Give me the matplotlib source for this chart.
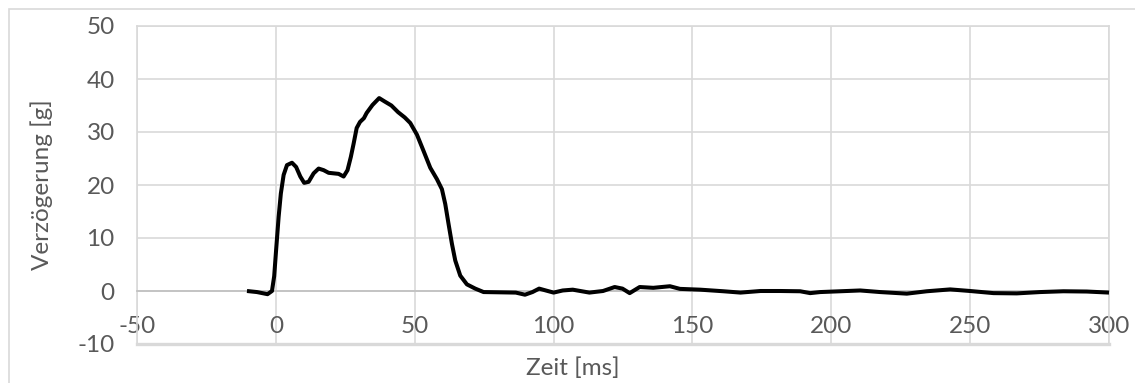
import matplotlib
matplotlib.use("Agg")
import matplotlib.pyplot as plt
from matplotlib.patches import Rectangle

# Verzögerungsverlauf über der Zeit
zeit_ms = [
    -10.4, -6.8, -3.0, -1.4, -0.6, 0.1, 1.0, 1.8, 2.8, 4.0, 5.8, 7.3, 8.8, 10.2,
    11.8, 13.6, 15.4, 17.2, 19.0, 20.8, 22.6, 24.4, 25.8, 27.0, 28.0, 29.1, 30.3,
    31.7, 32.7, 34.8, 37.2, 39.2, 41.6, 44.0, 46.4, 48.4, 50.8, 53.2, 55.6, 58.0,
    59.8, 61.0, 62.2, 63.4, 64.6, 66.4, 68.8, 71.8, 74.8, 80.8, 86.4, 89.7, 92.4,
    94.8, 97.2, 100.0, 103.3, 106.9, 112.9, 117.8, 122.0, 124.8, 127.4, 131.0,
    135.9, 141.9, 145.5, 152.8, 161.2, 167.3, 174.5, 181.7, 188.8, 192.4, 196.0,
    203.2, 210.4, 217.6, 227.2, 234.4, 242.8, 250.0, 258.4, 266.8, 275.2, 283.6,
    292.0, 300.0,
]
verzoegerung_g = [
    0.0, -0.2, -0.6, 0.0, 2.8, 7.8, 14.0, 18.4, 21.9, 23.75, 24.2, 23.4, 21.6, 20.4,
    20.6, 22.2, 23.1, 22.8, 22.3, 22.2, 22.1, 21.6, 22.8, 25.3, 27.8, 30.75, 31.9,
    32.6, 33.6, 35.1, 36.4, 35.75, 35.0, 33.75, 32.75, 31.7, 29.5, 26.4, 23.25, 21.1,
    19.2, 16.4, 12.6, 8.9, 5.75, 2.9, 1.25, 0.45, -0.2, -0.25, -0.3, -0.7, -0.2,
    0.45, 0.1, -0.3, 0.1, 0.25, -0.3, 0.0, 0.75, 0.45, -0.4, 0.75,
    0.6, 0.9, 0.4, 0.25, -0.05, -0.3, 0.0, 0.0, -0.05, -0.4, -0.2,
    -0.05, 0.1, -0.2, -0.5, -0.05, 0.3, 0.0, -0.4, -0.45, -0.2, -0.05,
    -0.1, -0.3,
]

x_ticks = [-50, 0, 50, 100, 150, 200, 250, 300]
y_ticks = [-10, 0, 10, 20, 30, 40, 50]

GRID = "#d9d9d9"
TEXT = "#595959"
FS = 17.5

plt.rcParams["font.family"] = ["Lato", "DejaVu Sans"]
plt.rcParams["axes.unicode_minus"] = False

W, H = 1135, 383
fig = plt.figure(figsize=(W / 100, H / 100), dpi=100)

# Rahmen um das gesamte Diagramm
fig.patches.append(Rectangle((9 / W, -0.1), 1.2, 1 - 9 / H + 0.1,
                             transform=fig.transFigure, fill=False,
                             edgecolor=GRID, linewidth=1.2))

left, right, top, bottom = 137, 1109, 26, 344
ax = fig.add_axes([left / W, (H - bottom) / H, (right - left) / W, (bottom - top) / H])

ax.plot(zeit_ms, verzoegerung_g, color="black", linewidth=2.9,
        solid_joinstyle="round", solid_capstyle="butt", zorder=3)

ax.set_xlim(-50, 300)
ax.set_ylim(-10, 50)
ax.set_xticks(x_ticks)
ax.set_yticks(y_ticks)
ax.grid(True, color=GRID, linewidth=1.2)
ax.set_axisbelow(True)

for side in ("top", "right", "left"):
    ax.spines[side].set_color(GRID)
    ax.spines[side].set_linewidth(1.2)
ax.spines["bottom"].set_position(("data", 0))
ax.spines["bottom"].set_color("#bfbfbf")
ax.spines["bottom"].set_linewidth(1.2)
# untere Begrenzung der Zeichenfläche
ax.axhline(-10, color=GRID, linewidth=2.4, clip_on=False)

ax.tick_params(axis="both", length=0, labelsize=FS, labelcolor=TEXT)
ax.tick_params(axis="x", pad=18)
ax.tick_params(axis="y", pad=16)

ax.set_ylabel("Verzögerung [g]", fontsize=FS, color=TEXT, labelpad=18)
fig.text(573 / W, 1 - 368 / H, "Zeit [ms]", fontsize=FS, color=TEXT,
         ha="center", va="center")

fig.savefig("out.png", dpi=100)
